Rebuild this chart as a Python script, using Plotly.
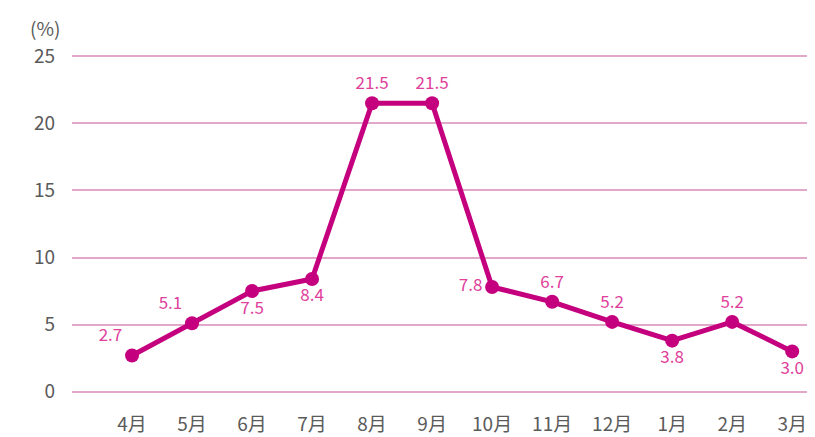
import plotly.graph_objects as go

months = ["4月", "5月", "6月", "7月", "8月", "9月", "10月", "11月", "12月", "1月", "2月", "3月"]
values = [2.7, 5.1, 7.5, 8.4, 21.5, 21.5, 7.8, 6.7, 5.2, 3.8, 5.2, 3.0]
labels = ["2.7", "5.1", "7.5", "8.4", "21.5", "21.5", "7.8", "6.7", "5.2", "3.8", "5.2", "3.0"]
label_pos = ["top left", "top left", "bottom center", "bottom center", "top center", "top center",
             "middle left", "top center", "top center", "bottom center", "top center", "bottom center"]
y_ticks = [0, 5, 10, 15, 20, 25]

font_family = "Noto Sans CJK JP, Noto Sans, sans-serif"
line_color = "#C4007E"
label_color = "#E0409B"
grid_color = "#E2A8CC"
axis_text = "#5a5a5a"

fig = go.Figure()
fig.add_trace(go.Scatter(
    x=list(range(len(months))), y=values,
    mode="lines+markers+text",
    line=dict(color=line_color, width=5),
    marker=dict(color=line_color, size=14),
    text=labels, textposition=label_pos,
    textfont=dict(color=label_color, size=17, family=font_family),
    cliponaxis=False, hoverinfo="skip",
))

fig.update_layout(
    width=807, height=429,
    margin=dict(l=64, r=0, t=43, b=40),
    paper_bgcolor="white", plot_bgcolor="white",
    showlegend=False,
    font=dict(family=font_family, color=axis_text),
    xaxis=dict(
        range=[-1.0, 11.38],
        tickmode="array", tickvals=list(range(len(months))), ticktext=months,
        showgrid=False, zeroline=False, showline=False,
        tickfont=dict(size=19, color=axis_text, family=font_family),
        ticklabelstandoff=14, ticks="", automargin=False,
        ticklabeloverflow="allow",
    ),
    yaxis=dict(
        range=[-0.4, 25.4],
        tickmode="array", tickvals=y_ticks,
        showgrid=True, gridcolor=grid_color, gridwidth=1.5,
        zeroline=False, showline=False, ticks="",
        tickfont=dict(size=19, color=axis_text, family=font_family),
        ticklabelstandoff=16, automargin=False,
    ),
    annotations=[dict(
        text="(%)", xref="paper", yref="paper", x=-0.036, y=1.0, yshift=24,
        xanchor="center", yanchor="middle", showarrow=False,
        font=dict(size=19, color=axis_text, family=font_family),
    )],
)

fig.write_html("out.html")
